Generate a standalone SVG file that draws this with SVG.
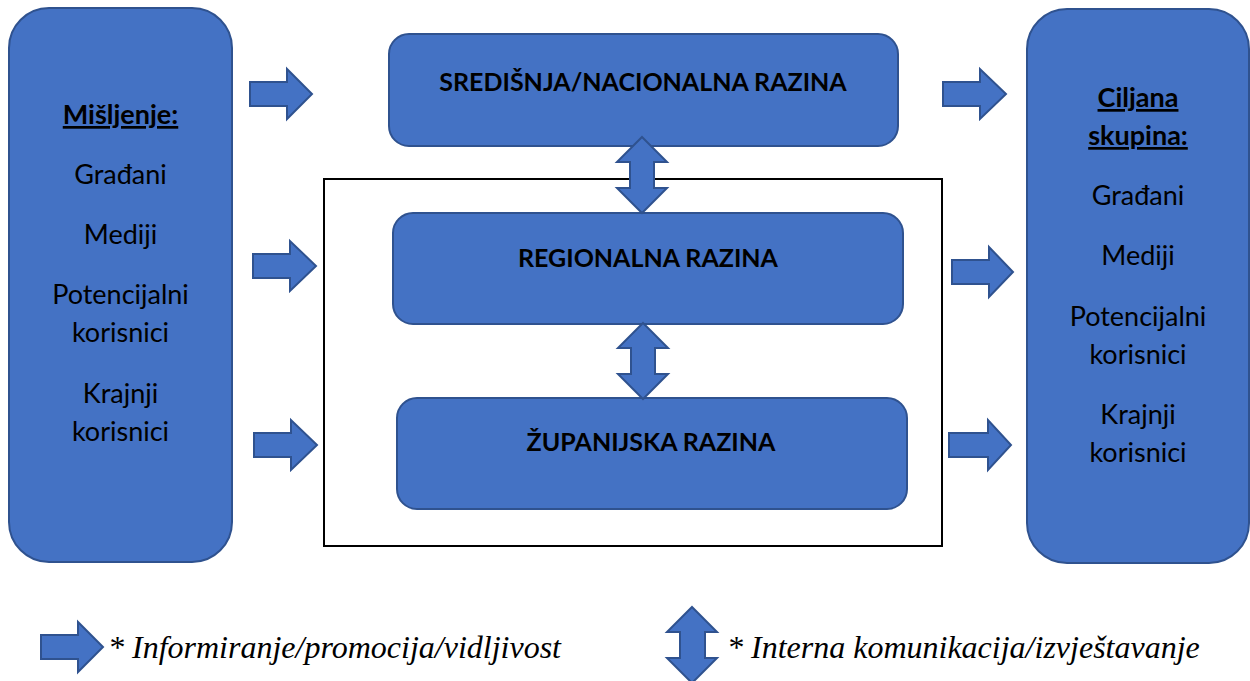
<svg xmlns="http://www.w3.org/2000/svg" width="1250" height="681" viewBox="0 0 1250 681">
<style>
.box{fill:#4472C4;stroke:#2F528F;stroke-width:2}
.arr{fill:#4472C4;stroke:#2F528F;stroke-width:2;stroke-linejoin:miter}
.t{font-family:Lato,"Open Sans","Liberation Sans",sans-serif;font-size:27px;fill:#000;text-anchor:middle}
.h{font-family:Lato,"Open Sans","Liberation Sans",sans-serif;font-size:25px;font-weight:bold;fill:#000;text-anchor:middle}
.u{font-weight:bold;text-decoration:underline}
.lg{font-family:"Liberation Serif","Times New Roman",serif;font-style:italic;font-size:32px;fill:#000}
</style>
<rect x="0" y="0" width="1250" height="681" fill="#fff"/>
<g id="group-box">
<rect x="324" y="179" width="618" height="367" fill="none" stroke="#000" stroke-width="2"/>
</g>
<g id="node-misljenje">
<rect class="box" x="9" y="8" width="223" height="554" rx="40" ry="40"/>
<text class="t u" x="120.5" y="124">Mišljenje:</text>
<text class="t" x="120.5" y="184">Građani</text>
<text class="t" x="120.5" y="244">Mediji</text>
<text class="t" x="120.5" y="304">Potencijalni</text>
<text class="t" x="120.5" y="342">korisnici</text>
<text class="t" x="120.5" y="403">Krajnji</text>
<text class="t" x="120.5" y="441">korisnici</text>
</g>
<g id="node-ciljana">
<rect class="box" x="1027" y="9" width="222" height="554" rx="40" ry="40"/>
<text class="t u" x="1138" y="107">Ciljana</text>
<text class="t u" x="1138" y="145">skupina:</text>
<text class="t" x="1138" y="205">Građani</text>
<text class="t" x="1138" y="265">Mediji</text>
<text class="t" x="1138" y="326">Potencijalni</text>
<text class="t" x="1138" y="364">korisnici</text>
<text class="t" x="1138" y="424">Krajnji</text>
<text class="t" x="1138" y="462">korisnici</text>
</g>
<g id="node-nacionalna">
<rect class="box" x="389" y="34" width="509" height="112" rx="20" ry="20"/>
<text class="h" x="643" y="91">SREDIŠNJA/NACIONALNA RAZINA</text>
</g>
<g id="node-regionalna">
<rect class="box" x="393" y="213" width="510" height="111" rx="20" ry="20"/>
<text class="h" x="648" y="267">REGIONALNA RAZINA</text>
</g>
<g id="node-zupanijska">
<rect class="box" x="397" y="398" width="510" height="111" rx="20" ry="20"/>
<text class="h" x="651" y="451">ŽUPANIJSKA RAZINA</text>
</g>
<g id="connectors">
<path class="arr" d="M250,82 H287 V69 L312,94 L287,119 V106 H250 Z"/>
<path class="arr" d="M253,254 H290 V241 L316,266 L290,291 V278 H253 Z"/>
<path class="arr" d="M254,433 H291 V420 L317,445 L291,470 V457 H254 Z"/>
<path class="arr" d="M943,82 H980 V69 L1006,94 L980,119 V106 H943 Z"/>
<path class="arr" d="M952,260 H989 V247 L1013,272 L989,297 V284 H952 Z"/>
<path class="arr" d="M949,433 H988 V420 L1011,445 L988,470 V457 H949 Z"/>
<path class="arr" d="M642,137 L667,162 H654 V188 H667 L642,213 L617,188 H630 V162 H617 Z"/>
<path class="arr" d="M643,323 L668,348 H655 V374 H668 L643,399 L618,374 H631 V348 H618 Z"/>
</g>
<g id="legend">
<path class="arr" d="M41,635 H78 V622 L103,647 L78,672 V659 H41 Z"/>
<text class="lg" x="108" y="658">* Informiranje/promocija/vidljivost</text>
<path class="arr" d="M692,607 L717,632 H705 V658 H717 L692,683 L667,658 H680 V632 H667 Z"/>
<text class="lg" x="727" y="658">* Interna komunikacija/izvještavanje</text>
</g>
</svg>
